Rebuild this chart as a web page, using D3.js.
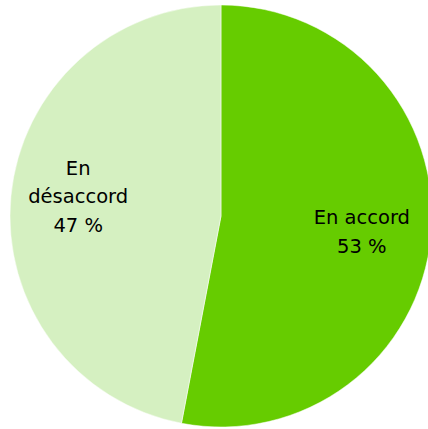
<!DOCTYPE html>
<html>
<head>
<meta charset="utf-8">
<script src="https://cdn.jsdelivr.net/npm/d3@7"></script>
<style>
  body { margin: 0; background: #fff; }
  svg { display: block; }
  .lbl { font-family: "DejaVu Sans", sans-serif; font-size: 19.5px; fill: #000; }
</style>
</head>
<body>
<svg id="chart" width="428" height="429"></svg>
<script>
// data
const categories = ['En accord', 'En désaccord'];
const values = [53, 47];
const colors = ['#66cc00', '#d5f0c1'];
// label lines per slice (split the way the chart wraps them)
const labelLines = [['En accord', '53 %'], ['En', 'désaccord', '47 %']];

const svg = d3.select('#chart');
const cx = 221, cy = 216, r = 211;

const pie = d3.pie().sort(null).value(d => d.value);
const arcs = pie(categories.map((c, i) => ({ name: c, value: values[i], i: i })));
const arc = d3.arc().innerRadius(0).outerRadius(r);
const labelArc = d3.arc().innerRadius(r * 0.68).outerRadius(r * 0.68);
// nudges so the labels sit where the original chart put them
const labelShift = [[-2, 2], [0, -6]];

const g = svg.append('g').attr('transform', `translate(${cx},${cy})`);

g.selectAll('path')
  .data(arcs)
  .enter()
  .append('path')
  .attr('d', arc)
  .attr('fill', d => colors[d.data.i])
  .attr('stroke', '#fff')
  .attr('stroke-width', 0.5);

// labels
const lineH = 28.5;
g.selectAll('text.lbl')
  .data(arcs)
  .enter()
  .append('text')
  .attr('class', 'lbl')
  .attr('text-anchor', 'middle')
  .attr('transform', d => {
    const p = labelArc.centroid(d);
    const s = labelShift[d.data.i];
    return `translate(${p[0] + s[0]},${p[1] + s[1]})`;
  })
  .each(function(d) {
    const lines = labelLines[d.data.i];
    const t = d3.select(this);
    lines.forEach((s, k) => {
      t.append('tspan')
        .attr('x', 0)
        .attr('y', (k - (lines.length - 1) / 2) * lineH + 7)
        .text(s);
    });
  });
</script>
</body>
</html>
